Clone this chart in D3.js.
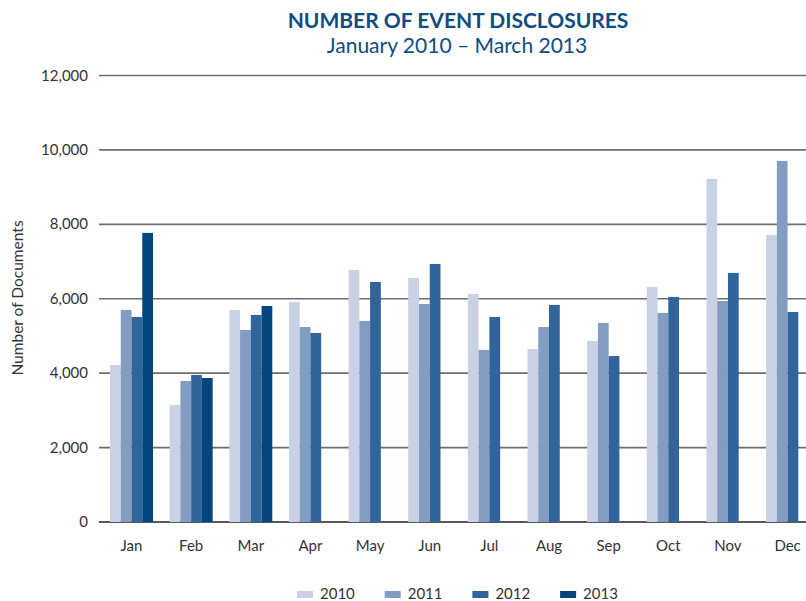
<!DOCTYPE html>
<html>
<head>
<meta charset="utf-8">
<script src="https://cdnjs.cloudflare.com/ajax/libs/d3/7.8.5/d3.min.js"></script>
<style>
  body { margin: 0; background: #fff; }
  text { font-family: Lato, "Open Sans", sans-serif; }
</style>
</head>
<body>
<div id="chart"></div>
<script>
var months = ['Jan','Feb','Mar','Apr','May','Jun','Jul','Aug','Sep','Oct','Nov','Dec'];
var years = ['2010','2011','2012','2013'];
var yTicks = [0, 2000, 4000, 6000, 8000, 10000, 12000];

// values, null = no data yet
var v2010 = [4220, 3145, 5700, 5915, 6775, 6560, 6130, 4650, 4865, 6315, 9220, 7715];
var v2011 = [5700, 3790, 5160, 5240, 5405, 5860, 4625, 5240, 5350, 5620, 5940, 9705];
var v2012 = [5510, 3950, 5565, 5080, 6450, 6935, 5510, 5835, 4460, 6050, 6695, 5645];
var v2013 = [7770, 3870, 5805, null, null, null, null, null, null, null, null, null];
var colors = ['#c9d1e4', '#839dc2', '#30649a', '#03467f'];

var series = [v2010, v2011, v2012, v2013];

var width = 806, height = 601;
var svg = d3.select('#chart').append('svg')
  .attr('width', width)
  .attr('height', height);

var y = d3.scaleLinear().domain([0, 12000]).range([522, 75.5]);

// bands run past the right edge of the picture, as in the reference
var x0 = d3.scaleBand().domain(months).range([101.7, 817.4]);
var groupW = 43;
var x1 = d3.scaleBand().domain(years).range([0, groupW]);

//gridlines
svg.append('g').selectAll('line')
  .data(yTicks)
  .enter().append('line')
  .attr('x1', 99)
  .attr('x2', width)
  .attr('y1', function(d){ return y(d); })
  .attr('y2', function(d){ return y(d); })
  .attr('stroke', function(d){ return d === 0 ? '#222' : '#6e6e6e'; })
  .attr('stroke-width', 1.6);

//y labels
svg.append('g').selectAll('text')
  .data(yTicks)
  .enter().append('text')
  .attr('x', 88)
  .attr('y', function(d){ return y(d) + 5; })
  .attr('text-anchor', 'end')
  .attr('font-size', 15)
  .attr('fill', '#333')
  .text(d3.format(','));

//bars
var groups = svg.append('g').selectAll('g')
  .data(months)
  .enter().append('g')
  .attr('transform', function(d){
    return 'translate(' + (x0(d) + (x0.bandwidth() - groupW) / 2) + ',0)';
  });

groups.selectAll('rect')
  .data(function(m, i){
    return years.map(function(yr, j){ return { year: yr, value: series[j][i], color: colors[j] }; })
      .filter(function(d){ return d.value != null; });
  })
  .enter().append('rect')
  .attr('x', function(d){ return x1(d.year); })
  .attr('width', x1.bandwidth())
  .attr('y', function(d){ return y(d.value); })
  .attr('height', function(d){ return y(0) - y(d.value); })
  .attr('fill', function(d){ return d.color; });

//x labels
svg.append('g').selectAll('text')
  .data(months)
  .enter().append('text')
  .attr('x', function(d){ return x0(d) + x0.bandwidth() / 2; })
  .attr('y', 551)
  .attr('text-anchor', 'middle')
  .attr('font-size', 15)
  .attr('fill', '#333')
  .text(function(d){ return d; });

//axis title
svg.append('text')
  .attr('transform', 'translate(23,298) rotate(-90)')
  .attr('text-anchor', 'middle')
  .attr('font-size', 15.5)
  .attr('fill', '#333')
  .text('Number of Documents');

//titles
svg.append('text')
  .attr('x', 458)
  .attr('y', 28)
  .attr('text-anchor', 'middle')
  .attr('font-size', 21)
  .attr('font-weight', 'bold')
  .attr('fill', '#0f4c81')
  .text('NUMBER OF EVENT DISCLOSURES');

svg.append('text')
  .attr('x', 457)
  .attr('y', 53)
  .attr('text-anchor', 'middle')
  .attr('font-size', 21)
  .attr('fill', '#0f4c81')
  .text('January 2010 \u2013 March 2013');

//legend
var legend = svg.append('g').selectAll('g')
  .data(years)
  .enter().append('g')
  .attr('transform', function(d, i){ return 'translate(' + (297 + 87.7 * i) + ',591)'; });

legend.append('rect')
  .attr('width', 16)
  .attr('height', 7)
  .attr('fill', function(d, i){ return colors[i]; });

legend.append('text')
  .attr('x', 23)
  .attr('y', 8)
  .attr('font-size', 15)
  .attr('fill', '#333')
  .text(function(d){ return d; });
</script>
</body>
</html>
